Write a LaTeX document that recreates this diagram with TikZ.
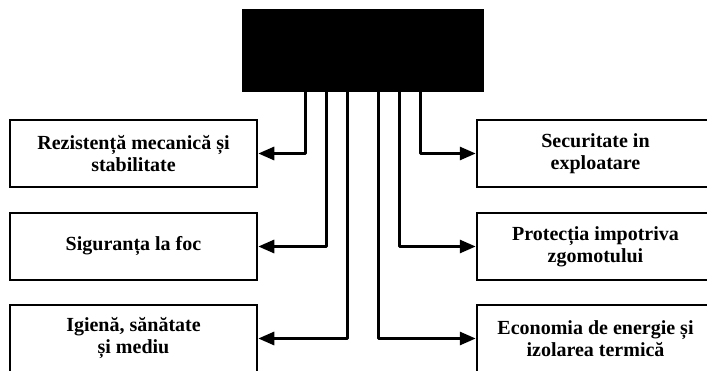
\documentclass[tikz,border=0pt]{standalone}
\usepackage{fontspec}
\setmainfont{Liberation Serif}
\usetikzlibrary{arrows.meta,positioning}
\begin{document}
\begin{tikzpicture}[x=1pt,y=1pt,>={Triangle[length=16pt,width=13pt]},
 box/.style={draw,line width=2.5pt,minimum height=67pt,align=center,
  font=\fontsize{20}{22}\selectfont\bfseries},
 link/.style={->,line width=3pt,line join=round}]
 \useasboundingbox (0,0) rectangle (707,370);
 \clip (0,0) rectangle (707,370);
 % heading box
 \node[draw,fill=black,line width=1pt,minimum width=241pt,minimum height=82pt] (top) at (362.5,319) {};
 % left column
 \node[box,minimum width=247pt] (rez) at (133.5,216.5) {Rezistență mecanică și\\stabilitate};
 \node[box,minimum width=247pt] (foc) at (133.5,123.5) {Siguranța la foc};
 \node[box,minimum width=247pt] (igi) at (133.5,31.5) {Igienă, sănătate\\și mediu};
 % right column
 \node[box,minimum width=237pt] (sec) at (595.5,216.5) {Securitate in\\exploatare};
 \node[box,minimum width=237pt] (zgo) at (595.5,123.5) {Protecția impotriva\\zgomotului};
 \node[box,minimum width=237pt] (eco) at (595.5,31.5) {Economia de energie și\\izolarea termică};
 \draw[link] ([xshift=-57.5pt]top.south) |- (rez.east);
 \draw[link] ([xshift=-36.5pt]top.south) |- (foc.east);
 \draw[link] ([xshift=-15.5pt]top.south) |- (igi.east);
 \draw[link] ([xshift=15.5pt]top.south) |- (eco.west);
 \draw[link] ([xshift=36.5pt]top.south) |- (zgo.west);
 \draw[link] ([xshift=57.5pt]top.south) |- (sec.west);
\end{tikzpicture}
\end{document}
